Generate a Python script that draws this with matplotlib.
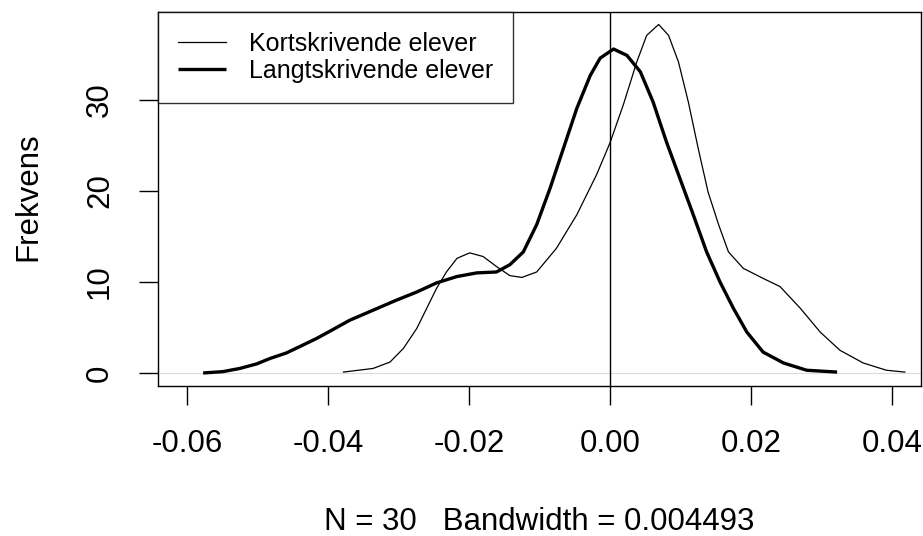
import matplotlib
matplotlib.use('Agg')
import matplotlib.pyplot as plt

plt.rcParams['font.family'] = ['Liberation Sans', 'DejaVu Sans']

# tetthetskurver lest av som (x, frekvens)
kort_x = [-0.0378, -0.0336, -0.0312, -0.0293, -0.0274, -0.0260, -0.0246, -0.0232,
          -0.0217, -0.0199, -0.0180, -0.0161, -0.0142, -0.0125, -0.0104, -0.0076,
          -0.0047, -0.0019, 0.0000, 0.0019, 0.0038, 0.0052, 0.0069, 0.0083,
          0.0097, 0.0111, 0.0125, 0.0139, 0.0154, 0.0168, 0.0189, 0.0217,
          0.0241, 0.0270, 0.0298, 0.0326, 0.0359, 0.0392, 0.0418]
kort_y = [0.1, 0.5, 1.2, 2.7, 4.9, 7.1, 9.3, 11.1,
          12.6, 13.2, 12.8, 11.7, 10.7, 10.5, 11.1, 13.7,
          17.4, 21.8, 25.3, 29.5, 34.2, 37.1, 38.3, 37.1,
          34.2, 29.8, 24.7, 19.9, 16.3, 13.3, 11.5, 10.4,
          9.5, 7.1, 4.5, 2.5, 1.1, 0.3, 0.1]

lang_x = [-0.0577, -0.0549, -0.0525, -0.0501, -0.0482, -0.0459, -0.0440, -0.0416,
          -0.0397, -0.0369, -0.0336, -0.0303, -0.0274, -0.0246, -0.0217, -0.0189,
          -0.0161, -0.0142, -0.0123, -0.0104, -0.0085, -0.0066, -0.0047, -0.0028,
          -0.0014, 0.0005, 0.0024, 0.0043, 0.0061, 0.0080, 0.0099, 0.0118,
          0.0137, 0.0156, 0.0175, 0.0194, 0.0217, 0.0246, 0.0279, 0.0322]
lang_y = [0.0, 0.15, 0.5, 1.0, 1.6, 2.2, 2.9, 3.8,
          4.6, 5.8, 6.9, 8.0, 8.9, 9.9, 10.6, 11.0,
          11.1, 11.9, 13.3, 16.3, 20.3, 24.7, 29.1, 32.7,
          34.6, 35.6, 34.9, 33.1, 29.8, 25.4, 21.4, 17.4,
          13.3, 10.0, 7.1, 4.5, 2.3, 1.1, 0.3, 0.1]

x_ticks = [-0.06, -0.04, -0.02, 0.00, 0.02, 0.04]
y_ticks = [0, 10, 20, 30]

fig = plt.figure(figsize=(9.23, 5.36), dpi=100)
ax = fig.add_axes([158/923, 1-386/536, 763/923, 374/536])

ax.axhline(0, color='#dcdcdc', lw=0.8, zorder=1)
ax.axvline(0, color='black', lw=1.0, zorder=2)
ax.plot(kort_x, kort_y, color='black', lw=0.9, label='Kortskrivende elever',
        solid_joinstyle='round', zorder=3)
ax.plot(lang_x, lang_y, color='black', lw=2.4, label='Langtskrivende elever',
        solid_joinstyle='round', solid_capstyle='butt', zorder=3)

ax.set_xlim(-0.0641, 0.0441)
ax.set_ylim(-1.43, 39.67)
ax.set_xticks(x_ticks)
ax.set_xticklabels(['%.2f' % v for v in x_ticks])
ax.set_yticks(y_ticks)
ax.set_yticklabels([str(v) for v in y_ticks], rotation=90, va='center')
ax.tick_params(length=14, width=1.0, labelsize=22.5, pad=17)
for s in ax.spines.values():
    s.set_linewidth(1.0)

fig.text(539.5/923, 1-530/536, 'N = 30   Bandwidth = 0.004493', fontsize=22.5,
         ha='center', va='baseline')
fig.text(36.5/923, 1-197/536, 'Frekvens', fontsize=22.5, rotation=90,
         ha='center', va='baseline', rotation_mode='anchor')

leg = ax.legend(loc='upper left', fontsize=18, frameon=True, fancybox=False,
                borderaxespad=0, handlelength=1.92, handletextpad=0.92,
                borderpad=0.8, labelspacing=0.12)
leg.get_frame().set_edgecolor('black')
leg.get_frame().set_linewidth(1.0)

fig.savefig('out.png', dpi=100)
